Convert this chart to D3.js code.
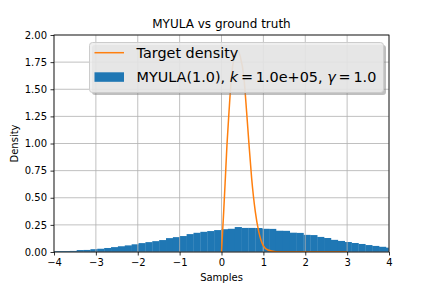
<!DOCTYPE html>
<html>
<head>
<meta charset="utf-8">
<script src="https://cdn.jsdelivr.net/npm/d3@7"></script>
<style>
  html, body { margin: 0; padding: 0; background: #fff; }
  svg { display: block; font-family: "DejaVu Sans", sans-serif; }
</style>
</head>
<body>
<div id="chart"></div>
<script>
// histogram of MYULA samples (bin edges and density per bin)
const binEdges = [-4.114, -3.950, -3.786, -3.622, -3.458, -3.294, -3.130, -2.966, -2.802, -2.638,
    -2.474, -2.310, -2.146, -1.982, -1.817, -1.653, -1.489, -1.325, -1.161, -0.997,
    -0.833, -0.669, -0.505, -0.341, -0.176, -0.012, 0.152, 0.316, 0.480, 0.644,
    0.808, 0.972, 1.137, 1.301, 1.465, 1.629, 1.793, 1.957, 2.121, 2.285,
    2.449, 2.613, 2.778, 2.942, 3.106, 3.270, 3.434, 3.598, 3.762, 3.926, 4.090];
const binDensity = [0.008, 0.009, 0.009, 0.010, 0.018, 0.019, 0.026, 0.030, 0.037, 0.045,
    0.053, 0.061, 0.071, 0.082, 0.091, 0.100, 0.110, 0.128, 0.137, 0.147,
    0.165, 0.177, 0.186, 0.193, 0.202, 0.210, 0.214, 0.230, 0.222, 0.222,
    0.221, 0.214, 0.213, 0.196, 0.195, 0.178, 0.176, 0.158, 0.156, 0.139,
    0.129, 0.112, 0.102, 0.092, 0.083, 0.074, 0.064, 0.056, 0.048, 0.040];

// target density curve
const targetX = [0, 0.052, 0.092, 0.131, 0.179, 0.235, 0.30, 0.38, 0.45, 0.537, 0.60, 0.657,
    0.72, 0.808, 0.888, 0.99, 1.11, 1.3, 1.6, 2.0, 3.0];
const targetY = [0, 0.37, 0.68, 0.99, 1.29, 1.60, 1.79, 1.86, 1.80, 1.60, 1.29, 0.99,
    0.68, 0.37, 0.19, 0.064, 0.018, 0.003, 0, 0, 0];

const xTicks = [-4, -3, -2, -1, 0, 1, 2, 3, 4];
const yTicks = [0, 0.25, 0.5, 0.75, 1.0, 1.25, 1.5, 1.75, 2.0];

const width = 432, height = 288;
const mLeft = 54, mRight = 389, mTop = 35, mBottom = 252;

const x = d3.scaleLinear().domain([-4, 4]).range([mLeft, mRight]);
const y = d3.scaleLinear().domain([0, 2]).range([mBottom, mTop]);

const svg = d3.select("#chart").append("svg")
    .attr("width", width)
    .attr("height", height);

svg.append("defs").append("clipPath").attr("id", "plot-clip")
    .append("rect")
    .attr("x", mLeft).attr("y", mTop)
    .attr("width", mRight - mLeft).attr("height", mBottom - mTop);

// bars
const bins = binDensity.map((d, i) => ({x0: binEdges[i], x1: binEdges[i + 1], v: d}));
svg.append("g")
    .attr("clip-path", "url(#plot-clip)")
    .selectAll("rect")
    .data(bins)
    .enter()
    .append("rect")
    .attr("x", d => x(d.x0))
    .attr("y", d => y(d.v))
    .attr("width", d => x(d.x1) - x(d.x0) + 0.3)
    .attr("height", d => y(0) - y(d.v))
    .attr("fill", "#1f77b4");

// grid (drawn over patches, under lines, like matplotlib)
const grid = svg.append("g").attr("stroke", "#b0b0b0").attr("stroke-width", 0.8);
grid.selectAll("line.vx")
    .data(xTicks)
    .enter()
    .append("line")
    .attr("x1", d => x(d)).attr("x2", d => x(d))
    .attr("y1", mTop).attr("y2", mBottom);
grid.selectAll("line.hy")
    .data(yTicks)
    .enter()
    .append("line")
    .attr("y1", d => y(d)).attr("y2", d => y(d))
    .attr("x1", mLeft).attr("x2", mRight);

// target density line
const pts = targetX.map((d, i) => [d, targetY[i]]);
svg.append("path")
    .datum(pts)
    .attr("clip-path", "url(#plot-clip)")
    .attr("fill", "none")
    .attr("stroke", "#ff7f0e")
    .attr("stroke-width", 1.5)
    .attr("d", d3.line().x(d => x(d[0])).y(d => y(d[1])).curve(d3.curveMonotoneX));

// axes
const fmtX = d => d < 0 ? "\u2212" + Math.abs(d) : String(d);
const xAxis = svg.append("g")
    .attr("transform", `translate(0,${mBottom})`)
    .call(d3.axisBottom(x).tickValues(xTicks).tickFormat(fmtX).tickSize(3.5).tickPadding(3.5));
const yAxis = svg.append("g")
    .attr("transform", `translate(${mLeft},0)`)
    .call(d3.axisLeft(y).tickValues(yTicks).tickFormat(d3.format(".2f")).tickSize(3.5).tickPadding(3.5));

[xAxis, yAxis].forEach(a => {
    a.select(".domain").remove();
    a.selectAll("line").attr("stroke", "#000").attr("stroke-width", 0.8);
    a.selectAll("text").attr("font-size", 10).attr("fill", "#000")
        .attr("font-family", "DejaVu Sans");
});

// spines
svg.append("rect")
    .attr("x", mLeft).attr("y", mTop)
    .attr("width", mRight - mLeft).attr("height", mBottom - mTop)
    .attr("fill", "none")
    .attr("stroke", "#000")
    .attr("stroke-width", 0.8);

// labels
svg.append("text")
    .attr("x", (mLeft + mRight) / 2).attr("y", 28)
    .attr("text-anchor", "middle")
    .attr("font-size", 12)
    .text("MYULA vs ground truth");

svg.append("text")
    .attr("x", (mLeft + mRight) / 2).attr("y", 281)
    .attr("text-anchor", "middle")
    .attr("font-size", 10)
    .text("Samples");

svg.append("text")
    .attr("transform", `translate(18,${(mTop + mBottom) / 2}) rotate(-90)`)
    .attr("text-anchor", "middle")
    .attr("font-size", 10)
    .text("Density");

// legend with shadow
const lg = svg.append("g");
const lx = 89.5, ly = 42.5, lw = 294, lh = 50;
lg.append("rect")
    .attr("x", lx + 2.5).attr("y", ly + 2.5)
    .attr("width", lw).attr("height", lh)
    .attr("rx", 3)
    .attr("fill", "#7f7f7f")
    .attr("opacity", 0.5);
lg.append("rect")
    .attr("x", lx).attr("y", ly)
    .attr("width", lw).attr("height", lh)
    .attr("rx", 3)
    .attr("fill", "#ececec")
    .attr("fill-opacity", 0.85)
    .attr("stroke", "#cccccc")
    .attr("stroke-width", 1);

lg.append("line")
    .attr("x1", 94.5).attr("x2", 124)
    .attr("y1", 52.7).attr("y2", 52.7)
    .attr("stroke", "#ff7f0e")
    .attr("stroke-width", 1.5);
lg.append("text")
    .attr("x", 136.5).attr("y", 58.3)
    .attr("font-size", 14.4)
    .text("Target density");

lg.append("rect")
    .attr("x", 94.5).attr("y", 72.3)
    .attr("width", 29.5).attr("height", 9.5)
    .attr("fill", "#1f77b4");
const t2 = lg.append("text")
    .attr("x", 136.5).attr("y", 82.3)
    .attr("font-size", 14.4);
t2.append("tspan").text("MYULA(1.0), ");
t2.append("tspan").attr("font-style", "italic").text("k");
t2.append("tspan").text("\u2009=\u20091.0e+05, ");
t2.append("tspan").attr("font-style", "italic").text("\u03b3");
t2.append("tspan").text("\u2009=\u20091.0");
</script>
</body>
</html>
